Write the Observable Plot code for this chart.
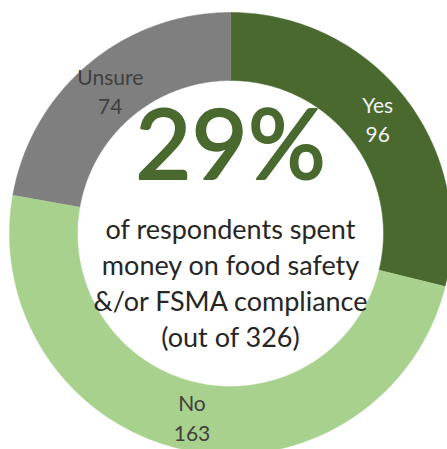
<!DOCTYPE html>
<html><head><meta charset="utf-8">
<script src="https://cdn.jsdelivr.net/npm/d3@7"></script>
<script src="https://cdn.jsdelivr.net/npm/@observablehq/plot@0.6"></script>
<style>html,body{margin:0;padding:0;background:#fff;overflow:hidden;}</style>
</head><body><div id="chart"></div>
<script>
const categories = ["Yes", "No", "Unsure"];
const counts = [96, 163, 74];
const colors = ["#49692f", "#a9d18e", "#7f7f7f"];
const labelColors = ["#f2f2f2", "#404040", "#404040"];
const headline = "29%";
const bodyLines = ["of respondents spent", "money on food safety", "&/or FSMA compliance", "(out of 326)"];

const W = 447, H = 449, cx = 230, cy = 233, R = 221, r = 153;
const inner = r / R;
const labelRadius = (1 + inner) / 2;

const slices = d3.pie().sort(null).value(d => d.count)(
  categories.map((c, i) => ({category: c, count: counts[i]}))
);

const ring = [];
for (const s of slices) {
  const n = 120;
  for (let k = 0; k <= n; k++) {
    const a = s.startAngle + (s.endAngle - s.startAngle) * k / n;
    ring.push({category: s.data.category, x: Math.sin(a), y: -Math.cos(a)});
  }
  for (let k = n; k >= 0; k--) {
    const a = s.startAngle + (s.endAngle - s.startAngle) * k / n;
    ring.push({category: s.data.category, x: inner * Math.sin(a), y: -inner * Math.cos(a)});
  }
}

const labels = slices.map(s => {
  const a = (s.startAngle + s.endAngle) / 2;
  return {x: labelRadius * Math.sin(a), y: -labelRadius * Math.cos(a), text: `${s.data.category}\n${s.data.count}`};
});

const font = "Lato, 'Open Sans', sans-serif";

const chart = Plot.plot({
  width: W,
  height: H,
  margin: 0,
  style: {fontFamily: font, background: "#fff"},
  x: {domain: [-cx / R, (W - cx) / R], range: [0, W], axis: null},
  y: {domain: [-cy / R, (H - cy) / R], range: [0, H], axis: null},
  color: {domain: categories, range: colors},
  marks: [
    Plot.line(ring, {x: "x", y: "y", z: "category", fill: "category", stroke: "category", strokeWidth: 0.5, curve: "linear"}),
    ...labels.map((d, i) => Plot.text([d], {x: "x", y: "y", text: "text", fill: labelColors[i], fontSize: 21, lineHeight: 1.4, fontFamily: font})),
    Plot.text([headline], {x: () => 0, y: () => 0, text: d => d, dy: -86, fontSize: 97, fill: colors[0], stroke: colors[0], strokeWidth: 2, fontFamily: font}),
    Plot.text([bodyLines.join("\n")], {x: () => 0, y: () => 0, text: d => d, dy: 48, fontSize: 27, lineHeight: 1.34, fill: "#262626", fontFamily: font})
  ]
});
document.getElementById("chart").appendChild(chart);
</script>
</body></html>
